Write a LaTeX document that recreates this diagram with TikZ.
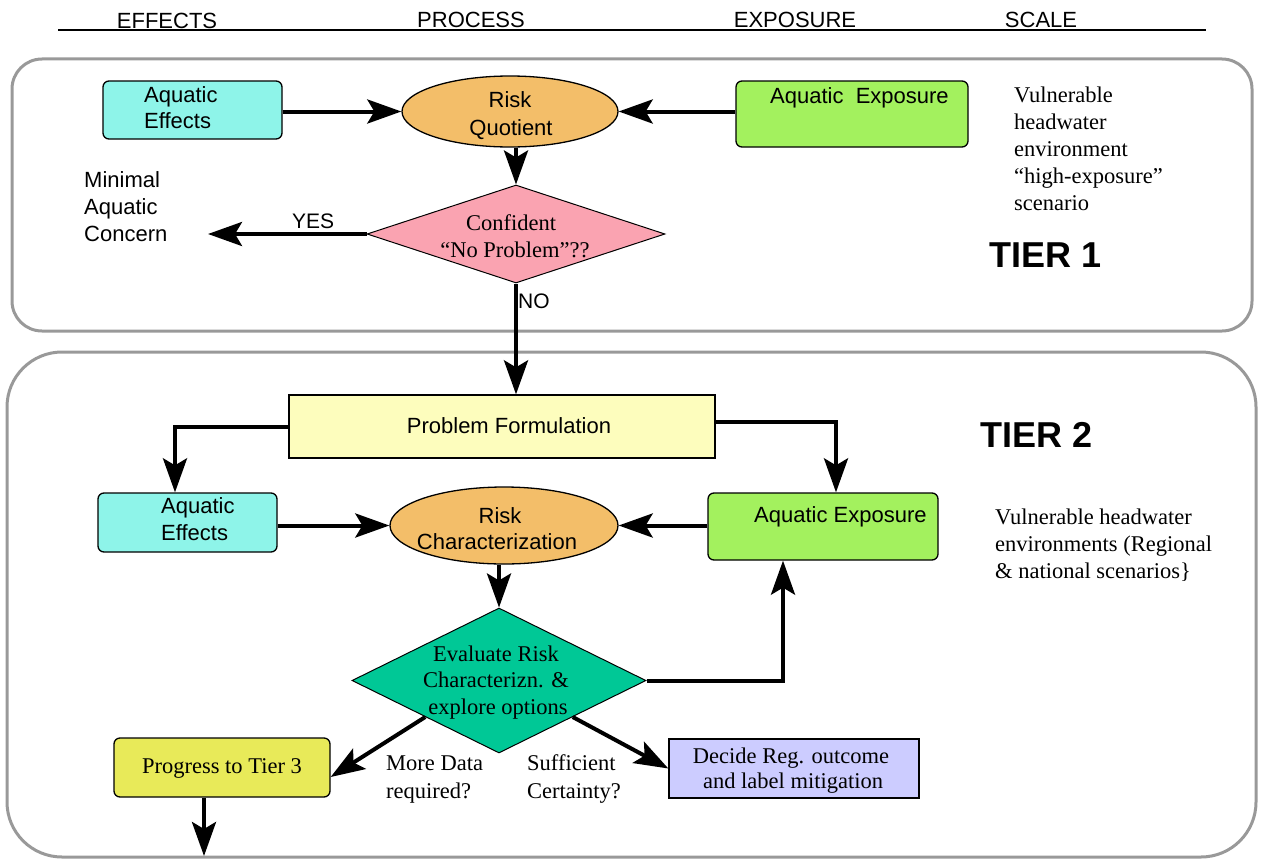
\documentclass[tikz,border=0pt]{standalone}
\usepackage{fontspec}
\setmainfont{Liberation Serif}
\setsansfont{Liberation Sans}
\usetikzlibrary{shapes.geometric,arrows.meta,calc}

\definecolor{panelgray}{HTML}{999999}
\definecolor{effcyan}{HTML}{8EF4E9}
\definecolor{riskorange}{HTML}{F3BE69}
\definecolor{expgreen}{HTML}{A3F15E}
\definecolor{askpink}{HTML}{FAA3B1}
\definecolor{evalteal}{HTML}{00C896}
\definecolor{formyellow}{HTML}{FDFDBD}
\definecolor{tieryellow}{HTML}{E8EA59}
\definecolor{decidelav}{HTML}{CCCCFF}

\begin{document}
\begin{tikzpicture}[x=1pt,y=-1pt,
  sans/.style={font=\sffamily\fontsize{22}{26}\selectfont, inner sep=0pt},
  serif/.style={font=\rmfamily\fontsize{22.5}{27}\selectfont, inner sep=0pt},
  tierlabel/.style={font=\sffamily\bfseries\fontsize{36}{40}\selectfont, inner sep=0pt},
  box/.style={draw=black, line width=1.3pt, inner sep=0pt},
  roundbox/.style={box, rounded corners=6pt},
  flow/.style={line width=4pt, -{Stealth[length=34pt,width=24pt,inset=7pt]}},
  panel/.style={draw=panelgray, line width=3pt}
]
\useasboundingbox (0,0) rectangle (1265,859);

% column headings
\coordinate (hl) at (58,30);
\coordinate (hr) at (1206,30);
\draw[line width=1.2pt] (hl) -- (hr);
\node[sans, anchor=base] (hEff) at (167,29) {EFFECTS};
\node[sans, anchor=base] (hProc) at (471,28) {PROCESS};
\node[sans, anchor=base] (hExp) at (795,28) {EXPOSURE};
\node[sans, anchor=base] (hScale) at (1041,28) {SCALE};

% tier panels
\draw[panel, rounded corners=30pt] (12,59) rectangle (1252,331);
\draw[panel, rounded corners=55pt] (7,352) rectangle (1256,857);

% ---------------- Tier 1 ----------------
\node[roundbox, fill=effcyan, minimum width=179pt, minimum height=58pt] (ae1) at (192.5,110) {};
\node[sans, anchor=base west] (ae1a) at (144,102) {Aquatic};
\node[sans, anchor=base west] (ae1b) at (144,128) {Effects};

\node[box, ellipse, fill=riskorange, minimum width=216pt, minimum height=71pt] (rq) at (510,111.5) {};
\node[sans, anchor=base] (rqa) at (510,107) {Risk};
\node[sans, anchor=base] (rqb) at (511,135) {Quotient};

\node[roundbox, fill=expgreen, minimum width=232pt, minimum height=66pt] (ax1) at (852,114) {};
\node[sans, anchor=base west] (ax1a) at (770,103) {Aquatic\ \ Exposure};

\node[box, diamond, line width=1pt, fill=askpink, minimum width=298pt, minimum height=98pt] (d1) at (516,234) {};
\node[serif, anchor=base] (d1a) at (511,230) {Confident};
\node[serif, anchor=base] (d1b) at (515,257) {``No Problem''??};

\node[sans, anchor=base west] (min1) at (84,187) {Minimal};
\node[sans, anchor=base west] (min2) at (84,214) {Aquatic};
\node[sans, anchor=base west] (min3) at (84,241) {Concern};
\coordinate (yesend) at (208,234);
\node[sans, font=\sffamily\fontsize{21}{25}\selectfont, anchor=base west] (yes) at (292,228) {YES};
\node[sans, font=\sffamily\fontsize{21}{25}\selectfont, anchor=base west] (no) at (518,308) {NO};

\node[serif, anchor=base west] (sc1a) at (1014,102) {Vulnerable};
\node[serif, anchor=base west] (sc1b) at (1014,129) {headwater};
\node[serif, anchor=base west] (sc1c) at (1014,156) {environment};
\node[serif, anchor=base west] (sc1d) at (1014,183) {``high-exposure''};
\node[serif, anchor=base west] (sc1e) at (1014,210) {scenario};
\node[tierlabel, anchor=base west] (t1) at (989,267) {TIER 1};

% ---------------- Tier 2 ----------------
\node[box, fill=formyellow, minimum width=426pt, minimum height=63pt] (pf) at (502,426.5) {};
\node[sans, anchor=base] (pft) at (509,433) {Problem Formulation};

\node[roundbox, fill=effcyan, minimum width=179pt, minimum height=59pt] (ae2) at (187.5,522.5) {};
\node[sans, anchor=base west] (ae2a) at (161,513) {Aquatic};
\node[sans, anchor=base west] (ae2b) at (161,540) {Effects};

\node[box, ellipse, fill=riskorange, minimum width=228pt, minimum height=77pt] (rc) at (504,525.5) {};
\node[sans, anchor=base] (rca) at (500,523) {Risk};
\node[sans, anchor=base] (rcb) at (497,549) {Characterization};

\node[roundbox, fill=expgreen, minimum width=230pt, minimum height=67pt] (ax2) at (823,526.5) {};
\node[sans, anchor=base west] (ax2a) at (754,522) {Aquatic Exposure};

\node[box, diamond, line width=1pt, fill=evalteal, minimum width=294pt, minimum height=145pt] (d2) at (499,680.5) {};
\node[serif, anchor=base] (d2a) at (496,661) {Evaluate Risk};
\node[serif, anchor=base] (d2b) at (496,687) {Characterizn. \&};
\node[serif, anchor=base] (d2c) at (498,714) {explore options};

\node[roundbox, fill=tieryellow, minimum width=216pt, minimum height=59pt] (pt) at (222,767.5) {};
\node[serif, anchor=base] (ptt) at (222,773) {Progress to Tier 3};

\node[box, fill=decidelav, minimum width=250pt, minimum height=59pt] (ds) at (794,768.5) {};
\node[serif, anchor=base] (dsa) at (791,763) {Decide Reg. outcome};
\node[serif, anchor=base] (dsb) at (793,788) {and label mitigation};

\node[serif, anchor=base west] (md1) at (386,770) {More Data};
\node[serif, anchor=base west] (md2) at (386,798) {required?};
\node[serif, anchor=base west] (sf1) at (527,770) {Sufficient};
\node[serif, anchor=base west] (sf2) at (527,798) {Certainty?};

\node[serif, anchor=base west] (sc2a) at (995,524) {Vulnerable headwater};
\node[serif, anchor=base west] (sc2b) at (995,551) {environments (Regional};
\node[serif, anchor=base west] (sc2c) at (995,578) {\& national scenarios\}};
\node[tierlabel, anchor=base west] (t2) at (980,447) {TIER 2};

% routing columns
\coordinate (leftcol) at (175,0);
\coordinate (rightcol) at (836,0);
\coordinate (backcol) at (783,0);
\coordinate (t3end) at (204,856);

% ---------------- connectors ----------------
\draw[flow] (ae1.east |- rq.west) -- (rq.west);
\draw[flow] (ax1.west |- rq.east) -- (rq.east);
\draw[flow] (d1.north |- rq.south) -- (d1.north);
\draw[flow] (d1.west) -- (yesend);
\draw[flow] (d1.south) -- (d1.south |- pf.north);

\draw[flow] (pf.west) -| (leftcol |- ae2.north);
\draw[flow] ($(pf.east)+(0,-4.5)$) -| (rightcol |- ax2.north);
\draw[flow] (ae2.east |- rc.west) -- (rc.west);
\draw[flow] (ax2.west |- rc.east) -- (rc.east);
\draw[flow] (d2.north |- rc.south) -- (d2.north);
\draw[flow] (d2.east) -| (backcol |- ax2.south);
\draw[flow] (d2.south west) -- ($(pt.east)+(0,9.5)$);
\draw[flow] (d2.south east) -- (ds.west);
\draw[flow] (t3end |- pt.south) -- (t3end);

\end{tikzpicture}
\end{document}
